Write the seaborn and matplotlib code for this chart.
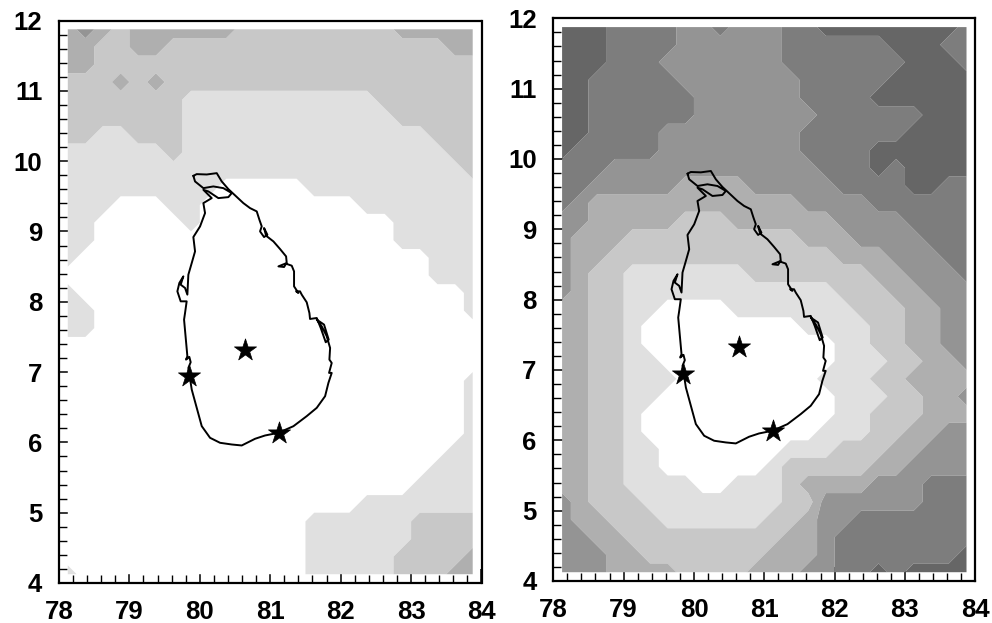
import numpy as np
import seaborn as sns
import matplotlib
matplotlib.use("Agg")
import matplotlib.pyplot as plt
from matplotlib.ticker import AutoMinorLocator

# grid nodes, every quarter degree
grid_lon = [78.125, 78.375, 78.625, 78.875, 79.125, 79.375, 79.625, 79.875,
            80.125, 80.375, 80.625, 80.875, 81.125, 81.375, 81.625, 81.875,
            82.125, 82.375, 82.625, 82.875, 83.125, 83.375, 83.625, 83.875]
grid_lat = [11.875, 11.625, 11.375, 11.125, 10.875, 10.625, 10.375, 10.125,
            9.875, 9.625, 9.375, 9.125, 8.875, 8.625, 8.375, 8.125,
            7.875, 7.625, 7.375, 7.125, 6.875, 6.625, 6.375, 6.125,
            5.875, 5.625, 5.375, 5.125, 4.875, 4.625, 4.375, 4.125]

# left map, class per node, one string per latitude (north to south)
left_rows = [
    "343233333322222222233333",
    "332233222222222222222233",
    "332222222222222222222222",
    "222323222222222222222222",
    "222222211111111111222222",
    "222222211111111111122222",
    "221122211111111111111222",
    "111111211111111111111122",
    "111111111111111111111112",
    "111111111000001111111111",
    "111000110000000001111111",
    "110000010000000000011111",
    "110000000000000000011111",
    "100000000000000000000111",
    "000000000000000000000111",
    "100000000000000000000001",
    "110000000000000000000001",
    "110000000000000000000000",
    "000000000000000000000000",
    "000000000000000000000000",
    "000000000000000000000001",
    "000000000000000000000001",
    "000000000000000000000001",
    "000000000000000000000001",
    "000000000000000000000011",
    "000000000000000000000111",
    "000000000000000000001111",
    "000000000000000001111111",
    "000000000000001111112222",
    "000000000000001111112222",
    "000000000000001111122223",
    "100000000000001111122233",
]

# right map, class per node, one string per longitude (north to south)
right_cols = [
    "66666666555444443333333333344444",
    "66666665554433333333333333333444",
    "66655555543333222222222222223344",
    "55555555443332222222222222222333",
    "55555555443322111111111111122233",
    "55555555443322111001110011112223",
    "55455544443322110000100000111223",
    "44445544433222110000000000111222",
    "44444444433222110000000000011222",
    "54444444433222110000000000011222",
    "44444444433322111000000000111222",
    "44444444443322211000000000111223",
    "44444444443322211000000001112233",
    "55544444443322211000000012222333",
    "55555455444332211100000012323334",
    "65555555544332211100100112344444",
    "65555555554433221111111122344555",
    "65555555554443222111111122345555",
    "65556556655443322221212223445556",
    "66566556555444332222222233445555",
    "66666566665544433332322334445556",
    "66666666665554443333333344555556",
    "65666666655555444443333444555556",
    "55566666655555544444343444555566",
]

level_bounds = [-0.5, 0.5, 1.5, 2.5, 3.5, 4.5, 5.5, 6.5]
level_colors = ["#ffffff", "#e0e0e0", "#c8c8c8", "#afafaf", "#949494", "#7d7d7d", "#666666"]

# coastline
coast_lon = [79.908, 79.955, 80.098, 80.240, 80.311, 80.405, 80.618, 80.713, 80.808, 80.846,
             80.879, 80.855, 80.912, 80.959, 80.912, 80.941, 81.045, 81.139, 81.225, 81.234,
             81.116, 81.196, 81.225, 81.305, 81.338, 81.338, 81.400, 81.367, 81.423, 81.447,
             81.518, 81.556, 81.565, 81.660, 81.717, 81.788, 81.830, 81.764, 81.660, 81.731,
             81.802, 81.850, 81.840, 81.873, 81.835, 81.873, 81.826, 81.779, 81.660, 81.518,
             81.329, 81.116, 80.926, 80.784, 80.595, 80.453, 80.287, 80.145, 80.027, 79.956,
             79.885, 79.837, 79.870, 79.851, 79.804, 79.823, 79.776, 79.790, 79.813, 79.728,
             79.681, 79.709, 79.766, 79.728, 79.790, 79.823, 79.837, 79.885, 79.932, 79.908,
             80.003, 80.074, 80.050, 80.169, 80.050, 80.121, 80.263, 80.405, 80.453, 80.334,
             80.192, 80.050, 79.932, 79.908]
coast_lat = [9.791, 9.815, 9.810, 9.829, 9.711, 9.602, 9.403, 9.332, 9.285, 9.166,
             9.072, 9.001, 8.920, 8.953, 9.048, 8.939, 8.858, 8.750, 8.645, 8.551,
             8.503, 8.494, 8.541, 8.513, 8.432, 8.219, 8.125, 8.148, 8.148, 8.101,
             7.992, 7.840, 7.755, 7.769, 7.627, 7.424, 7.461, 7.675, 7.746, 7.651,
             7.509, 7.343, 7.177, 7.130, 6.988, 6.988, 6.846, 6.657, 6.491, 6.373,
             6.230, 6.136, 6.098, 6.051, 5.956, 5.970, 5.994, 6.065, 6.231, 6.491,
             6.751, 7.059, 7.140, 7.215, 7.177, 7.225, 7.746, 7.840, 8.006, 8.006,
             8.148, 8.267, 8.361, 8.243, 8.196, 8.101, 8.385, 8.551, 8.716, 8.920,
             9.071, 9.261, 9.403, 9.474, 9.592, 9.569, 9.474, 9.488, 9.545, 9.616,
             9.640, 9.616, 9.711, 9.791]

# stations
star_lon = [80.64, 79.84, 81.12]
star_lat = [7.32, 6.94, 6.13]

x_ticks = [78, 79, 80, 81, 82, 83, 84]
y_ticks = [4, 5, 6, 7, 8, 9, 10, 11, 12]

sns.set_theme(style="ticks")
plt.rcParams['font.family'] = ['Liberation Sans', 'DejaVu Sans']


def to_grid(strings):
    return np.array([[int(c) for c in s] for s in strings], dtype=float)


def draw_map(ax, values):
    ax.contourf(grid_lon, grid_lat, values, levels=level_bounds, colors=level_colors, antialiased=True)
    sns.lineplot(x=coast_lon, y=coast_lat, sort=False, estimator=None, color="black", linewidth=1.4, ax=ax)
    sns.scatterplot(x=star_lon, y=star_lat, marker="*", s=280, color="black", edgecolor="black",
                    linewidth=0.5, zorder=5, ax=ax)
    ax.set_xlim(78, 84)
    ax.set_ylim(4, 12)
    ax.set_xticks(x_ticks)
    ax.set_yticks(y_ticks)
    ax.xaxis.set_minor_locator(AutoMinorLocator(5))
    ax.yaxis.set_minor_locator(AutoMinorLocator(5))
    ax.tick_params(which="major", direction="in", length=10, width=1.1, pad=12, colors="black")
    ax.tick_params(which="minor", direction="in", length=5.5, width=1.0, colors="black")
    for lab in ax.get_xticklabels() + ax.get_yticklabels():
        lab.set_fontsize(18.5)
        lab.set_fontweight("bold")
    for sp in ax.spines.values():
        sp.set_visible(True)
        sp.set_linewidth(1.6)
        sp.set_color("black")


W, H = 992, 623
fig = plt.figure(figsize=(W / 100, H / 100), dpi=100, facecolor="white")
ax1 = fig.add_axes([59 / W, 1 - 583 / H, 422.5 / W, 562.5 / H])
ax2 = fig.add_axes([553.3 / W, 1 - 581 / H, 422 / W, 562.7 / H])

draw_map(ax1, to_grid(left_rows))
draw_map(ax2, to_grid(right_cols).T)

fig.savefig("out.png", dpi=100)
